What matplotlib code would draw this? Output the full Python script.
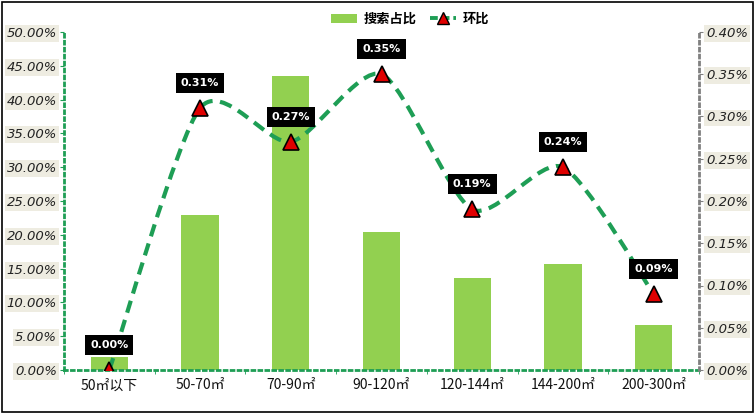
import numpy as np
import matplotlib
matplotlib.use('Agg')
import matplotlib.pyplot as plt
from matplotlib.path import Path
from matplotlib.patches import PathPatch, Patch, Rectangle
from matplotlib.lines import Line2D
from matplotlib.ticker import FuncFormatter

plt.rcParams['font.family'] = ['Noto Sans CJK SC', 'DejaVu Sans']

# data
categories = ['50㎡以下', '50-70㎡', '70-90㎡', '90-120㎡', '120-144㎡', '144-200㎡', '200-300㎡']
search_share = [1.9, 22.9, 43.5, 20.4, 13.6, 15.7, 6.7]   # 搜索占比 (%)
mom = [0.00, 0.31, 0.27, 0.35, 0.19, 0.24, 0.09]          # 环比 (%)

bar_color = '#92D050'
line_color = '#1E9E55'

fig = plt.figure(figsize=(7.56, 4.16), dpi=100)
ax = fig.add_axes([64 / 756, 46 / 416, 635 / 756, 338 / 416])
ax2 = ax.twinx()

x = np.arange(len(categories))
ax.bar(x, search_share, width=0.41, color=bar_color, zorder=2)
ax.set_xlim(-0.5, len(categories) - 0.5)
ax.set_ylim(0, 50)
ax.set_yticks(np.arange(0, 50.1, 5))
ax.yaxis.set_major_formatter(FuncFormatter(lambda v, p: f'{v:.2f}%'))

ax2.set_ylim(0, 0.40)
ax2.set_yticks(np.arange(0, 0.401, 0.05))
ax2.yaxis.set_major_formatter(FuncFormatter(lambda v, p: f'{v:.2f}%'))

# smoothed line (Bezier through the points, mild tension)
pts = np.column_stack([x, mom])
verts = [pts[0]]
codes = [Path.MOVETO]
n = len(pts)
k = 8.0
for i in range(n - 1):
    p0 = pts[i - 1] if i > 0 else pts[i]
    p1 = pts[i]
    p2 = pts[i + 1]
    p3 = pts[i + 2] if i + 2 < n else pts[i + 1]
    c1 = p1 + (p2 - p0) / k
    c2 = p2 - (p3 - p1) / k
    verts += [c1, c2, p2]
    codes += [Path.CURVE4] * 3
curve = PathPatch(Path(verts, codes), facecolor='none', edgecolor=line_color,
                  lw=3.0, linestyle=(0, (3.0, 1.8)), zorder=3, capstyle='butt')
ax2.add_patch(curve)
ax2.plot(x, mom, linestyle='none', marker='^', markersize=11, markerfacecolor='#E00000',
         markeredgecolor='black', markeredgewidth=1.2, zorder=4)

for xi, v in zip(x, mom):
    ax2.annotate(f'{v:.2f}%', (xi, v), xytext=(0, 18), textcoords='offset points',
                 ha='center', va='center', fontsize=8, color='white', fontweight='bold',
                 family=['DejaVu Sans'],
                 bbox=dict(boxstyle='square,pad=0.45', facecolor='black', edgecolor='none'),
                 zorder=5)

# axes styling
for a in (ax, ax2):
    for s in a.spines.values():
        s.set_visible(False)
for side, a, col in (('left', ax, line_color), ('bottom', ax, line_color), ('right', ax2, '#808080')):
    sp = a.spines[side]
    sp.set_visible(True)
    sp.set_color(col)
    sp.set_linestyle((0, (1, 1.5)))
    sp.set_linewidth(2)

tick_font = dict(fontsize=9.5, style='italic', family=['DejaVu Sans'], color='#222222')
lbl_box = dict(boxstyle='square,pad=0.15', facecolor='#EEECE1', edgecolor='none')
ax.tick_params(axis='y', length=3, color=line_color, pad=2)
ax2.tick_params(axis='y', length=3, color='#808080', pad=2)
for t in ax.get_yticklabels() + ax2.get_yticklabels():
    t.set(**tick_font)
    t.set_bbox(lbl_box)

ax.set_xticks(x)
ax.set_xticklabels(categories, fontsize=10, style='italic', color='#111111')
ax.tick_params(axis='x', length=0, pad=6)
ax.set_xticks(np.arange(-0.5, len(categories), 1), minor=True)
ax.tick_params(axis='x', which='minor', length=3, color=line_color)

handles = [Patch(facecolor=bar_color, edgecolor='none'),
           Line2D([0], [0], color=line_color, lw=2.8, linestyle=(0, (2, 1)), marker='^',
                  markersize=8, markerfacecolor='#E00000', markeredgecolor='black')]
fig.legend(handles, ['搜索占比', '环比'], loc='center', bbox_to_anchor=(410 / 756, 1 - 19 / 416),
           ncol=2, frameon=False, prop={'family': ['Noto Sans CJK SC'], 'weight': 'bold', 'size': 9.5},
           handlelength=2.0, columnspacing=1.0, handletextpad=0.5)

fig.patches.append(Rectangle((0.002, 0.01), 0.994, 0.985, transform=fig.transFigure,
                             fill=False, edgecolor='black', lw=1.2))

fig.savefig('out.png', dpi=100)
